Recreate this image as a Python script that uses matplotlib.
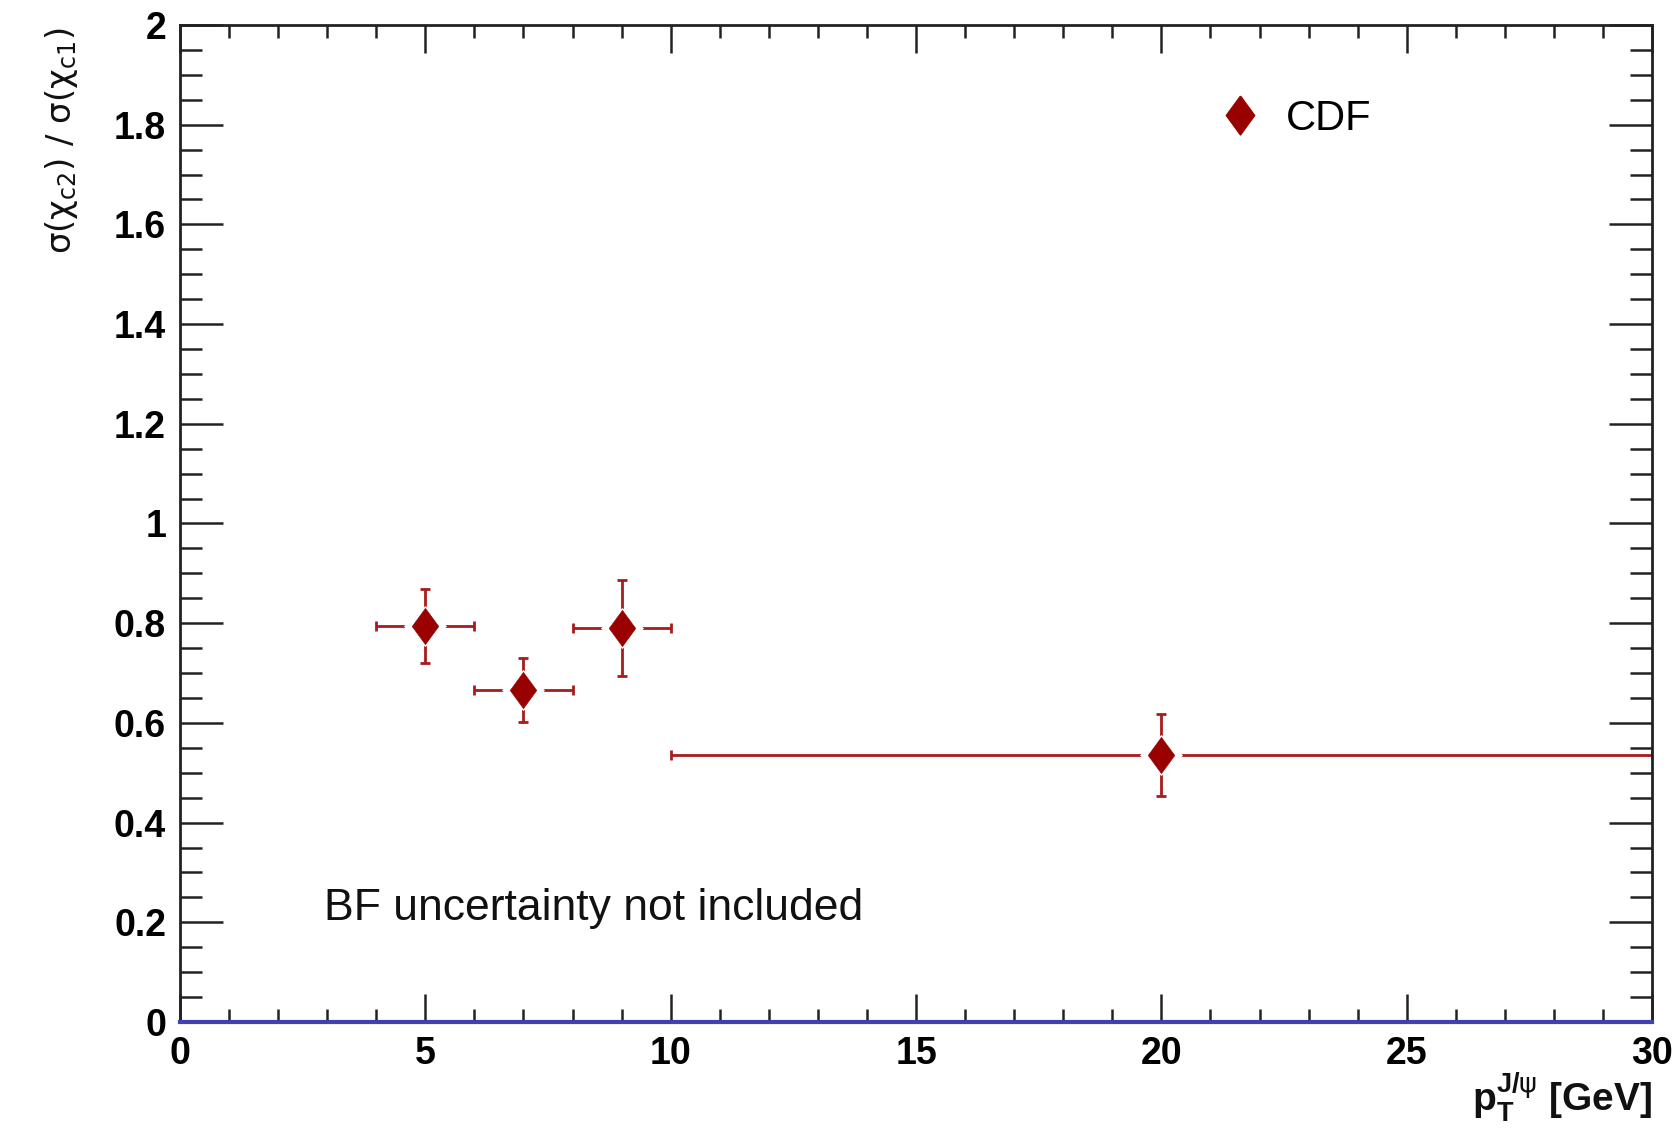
import numpy as np
import matplotlib
matplotlib.use('Agg')
import matplotlib.pyplot as plt
from matplotlib.ticker import MultipleLocator, FormatStrFormatter
from matplotlib.lines import Line2D

# datos
pt_centros = [5.0, 7.0, 9.0, 20.0]
pt_ancho = [1.0, 1.0, 1.0, 10.0]
ratio = [0.794, 0.666, 0.790, 0.536]
ratio_err = [0.074, 0.065, 0.096, 0.082]

rojo = '#990000'
rojo_linea = '#a81c1c'

plt.rcParams['font.family'] = ['Liberation Sans', 'DejaVu Sans']
plt.rcParams['mathtext.fontset'] = 'dejavusans'

fig = plt.figure(figsize=(16.79, 11.31), dpi=100)
ax = fig.add_axes([0.1072, 0.0964, 0.8768, 0.8815])

# barras de error (con hueco alrededor del marcador)
ax.errorbar(pt_centros, ratio, xerr=pt_ancho, yerr=ratio_err, fmt='none',
            ecolor=rojo_linea, elinewidth=2, capsize=3.6, capthick=2, zorder=2)

diamante = [(0, 1), (0.73, 0), (0, -1), (-0.73, 0), (0, 1)]
hueco = [(0, 1), (1.05, 0), (0, -1), (-1.05, 0), (0, 1)]
ax.plot(pt_centros, ratio, ls='none', marker=hueco, ms=31, mfc='white',
        mec='white', mew=0, zorder=3)
ax.plot(pt_centros, ratio, ls='none', marker=diamante, ms=26, mfc=rojo,
        mec=rojo, mew=0.5, zorder=4)

# linea azul en cero
ax.axhline(0, color='#4040b0', lw=3, zorder=5, clip_on=False)

ax.set_xlim(0, 30)
ax.set_ylim(0, 2)

ax.xaxis.set_major_locator(MultipleLocator(5))
ax.xaxis.set_minor_locator(MultipleLocator(1))
ax.yaxis.set_major_locator(MultipleLocator(0.2))
ax.yaxis.set_minor_locator(MultipleLocator(0.05))
ax.yaxis.set_major_formatter(FormatStrFormatter('%g'))
ax.xaxis.set_major_formatter(FormatStrFormatter('%g'))

ax.tick_params(axis='both', which='both', direction='in', top=True, right=True,
               width=1.8, color='#222222')
ax.tick_params(axis='y', which='major', length=31, pad=10)
ax.tick_params(axis='y', which='minor', length=16)
ax.tick_params(axis='x', which='major', length=20, pad=10)
ax.tick_params(axis='x', which='minor', length=9.5)
for lab in ax.get_xticklabels() + ax.get_yticklabels():
    lab.set_fontsize(27)
    lab.set_fontweight('bold')
for s in ax.spines.values():
    s.set_linewidth(2)
    s.set_color('#222222')

ax.set_ylabel(r'$\mathrm{\sigma(\chi_{c2})\ /\ \sigma(\chi_{c1})}$', fontsize=24.5,
              loc='top', color='#111111')
ax.yaxis.set_label_coords(-0.068, 0.998)

ax.set_xlabel(r'$\mathdefault{p}_{\mathdefault{T}}^{\mathdefault{J/}\mathrm{\psi}}$ [GeV]',
              fontsize=28, fontweight='bold', loc='right', color='#111111')
ax.xaxis.set_label_coords(1.0, -0.048)

# leyenda
marca = Line2D([], [], ls='none', marker=diamante, ms=28, mfc=rojo, mec=rojo)
ax.legend([marca], ['CDF'], loc='center left', bbox_to_anchor=(0.706, 0.906),
          frameon=False, fontsize=30, handlelength=1, handletextpad=0.6,
          borderpad=0, borderaxespad=0, numpoints=1)

ax.text(0.098, 0.114, 'BF uncertainty not included', transform=ax.transAxes,
        fontsize=32, ha='left', va='center', color='#111111')

fig.savefig('out.png', dpi=100)
